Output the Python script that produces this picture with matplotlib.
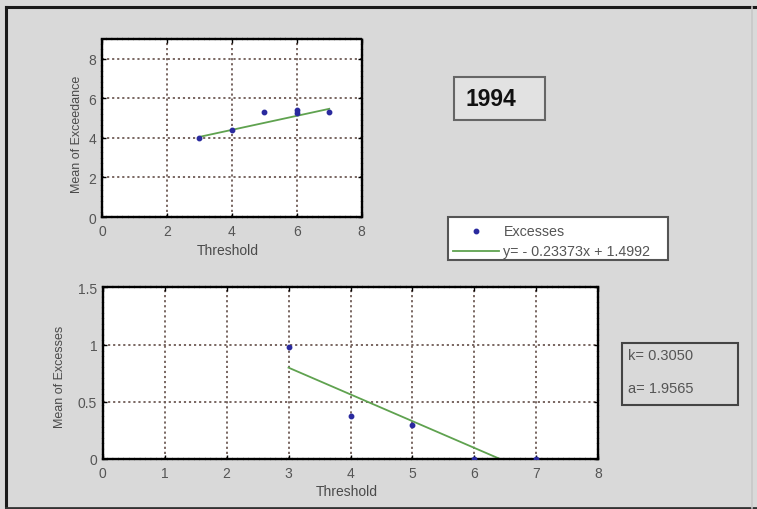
import matplotlib
matplotlib.use("Agg")
import matplotlib.pyplot as plt
import numpy as np
from matplotlib.lines import Line2D
from matplotlib.patches import Rectangle
from matplotlib.ticker import FuncFormatter, MultipleLocator

# Mean of exceedance vs threshold (1994)
thr_top = [3, 4, 5, 6, 6, 7]
exceedance = [4.0, 4.42, 5.33, 5.42, 5.25, 5.33]
top_fit_slope = 0.355
top_fit_intercept = 2.985
top_fit_range = [3, 7]

# Mean of excesses vs threshold
thr_bottom = [3, 4, 5, 6, 7]
excesses = [0.98, 0.38, 0.30, 0.0, 0.0]
fit_slope = -0.23373
fit_intercept = 1.4992
fit_range = [3, 7]

year_label = "1994"
k_value = 0.3050
a_value = 1.9565

W, H = 757, 510
BG = "#d9d9d9"
GRID = "#6e5b55"
PT = "#2a2a9e"
LINE = "#5fa24f"
TXT = "#4a4a4a"

plt.rcParams["font.family"] = ["Liberation Sans", "DejaVu Sans"]

fig = plt.figure(figsize=(W / 100, H / 100), dpi=100, facecolor=BG)


def fx(px):
    return px / W


def fy(py):
    return 1 - py / H


def box(x0, y0, x1, y1, face, edge, lw):
    fig.patches.append(Rectangle((fx(x0), fy(y1)), fx(x1) - fx(x0), fy(y0) - fy(y1),
                                 transform=fig.transFigure, facecolor=face,
                                 edgecolor=edge, linewidth=lw))


def style_axes(ax, xmax, xstep, ymax, ystep):
    ax.set_facecolor("white")
    ax.set_xlim(0, xmax)
    ax.set_ylim(0, ymax)
    ax.xaxis.set_major_locator(MultipleLocator(xstep))
    ax.yaxis.set_major_locator(MultipleLocator(ystep))
    ax.xaxis.set_major_formatter(FuncFormatter(lambda v, p: f"{v:g}"))
    ax.yaxis.set_major_formatter(FuncFormatter(lambda v, p: f"{v:g}"))
    ax.grid(True, linestyle=(0, (1.2, 1.6)), color=GRID, linewidth=1.3)
    ax.tick_params(direction="in", top=True, right=True, length=3, width=1,
                   labelsize=10, labelcolor="#555555", color="black")
    ax.tick_params(axis="x", pad=5)
    ax.tick_params(axis="y", pad=4)
    for s in ax.spines.values():
        s.set_color("black")
        s.set_linewidth(1.7)
        s.set_linestyle((0, (1.5, 0.8)))
    ax.set_axisbelow(True)


# Upper panel
ax1 = fig.add_axes([fx(102), fy(218), fx(361.7) - fx(102), fy(40) - fy(218)])
style_axes(ax1, 8, 2, 9, 2)
ax1.set_yticks([0, 2, 4, 6, 8])
ax1.plot(thr_top, exceedance, linestyle="none", marker="o", markersize=3.2,
         color=PT, zorder=3)
xt = np.array(top_fit_range)
ax1.plot(xt, top_fit_slope * xt + top_fit_intercept, color=LINE, linewidth=1.3)
ax1.set_xlabel("Threshold", fontsize=10, color=TXT)
ax1.set_ylabel("Mean of Exceedance", fontsize=9, color=TXT)
ax1.xaxis.set_label_coords(0.485, -0.146)
ax1.yaxis.set_label_coords(-0.075, 0.47)

# Lower panel
ax2 = fig.add_axes([fx(102.7), fy(460), fx(598.3) - fx(102.7), fy(288.3) - fy(460)])
style_axes(ax2, 8, 1, 1.5, 0.5)
ax2.plot(thr_bottom, excesses, linestyle="none", marker="o",
         markersize=3.2, color=PT, zorder=3)
xb = np.linspace(fit_range[0], fit_range[1], 50)
ax2.plot(xb, fit_slope * xb + fit_intercept, color=LINE, linewidth=1.3)
ax2.set_xlabel("Threshold", fontsize=10, color=TXT)
ax2.set_ylabel("Mean of Excesses", fontsize=9, color=TXT)
ax2.xaxis.set_label_coords(0.493, -0.146)
ax2.yaxis.set_label_coords(-0.074, 0.483)

# Legend for the fitted line
box(448, 218, 668, 261, "white", "#555555", 1.5)
fig.add_artist(Line2D([fx(476)], [fy(232)], transform=fig.transFigure,
                      linestyle="none", marker="o", markersize=3.2, color=PT))
fig.add_artist(Line2D([fx(453), fx(499)], [fy(252), fy(252)],
                      transform=fig.transFigure, color=LINE, linewidth=1.3))
fig.text(fx(504), fy(232), "Excesses", fontsize=10.3, color="#555555",
         va="center", ha="left")
fig.text(fx(503), fy(252),
         f"y= - {abs(fit_slope):.5f}x + {fit_intercept:.4f}",
         fontsize=10.3, color="#555555", va="center", ha="left")

# Year box
box(454, 78, 545, 121, "#e2e2e2", "#666666", 1.5)
fig.text(fx(465), fy(100), year_label, fontsize=16.5, fontweight="bold",
         color="#111111", va="center", ha="left")

# Parameter box
box(621.7, 344, 737.7, 406, BG, "#444444", 1.5)
fig.text(fx(628), fy(356), f"k= {k_value:.4f}", fontsize=10.5, color="#555555",
         va="center", ha="left")
fig.text(fx(628), fy(389), f"a= {a_value:.4f}", fontsize=10.5, color="#555555",
         va="center", ha="left")

# Outer frame
for (x0, y0, x1, y1, c, lw) in [(6, 8, 757, 8, "#1a1a1a", 2.2),
                                (6, 8, 6, 510, "#1a1a1a", 2.2),
                                (6, 509, 757, 509, "#333333", 2.0),
                                (752, 8, 752, 509, "#c8c8c8", 1.2)]:
    fig.add_artist(Line2D([fx(x0), fx(x1)], [fy(y0), fy(y1)],
                          transform=fig.transFigure, color=c, linewidth=lw))

fig.savefig("out.png", dpi=100, facecolor=BG)
